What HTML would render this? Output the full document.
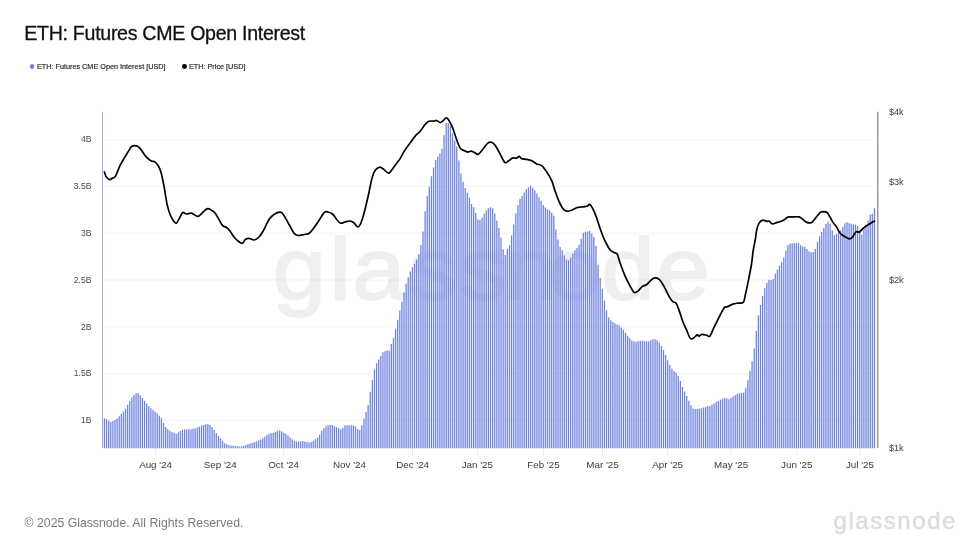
<!DOCTYPE html>
<html lang="en"><head><meta charset="utf-8"><title>ETH: Futures CME Open Interest</title>
<style>
html,body{margin:0;padding:0;background:#fff}
body{width:980px;height:551px;position:relative;overflow:hidden;font-family:"Liberation Sans",sans-serif}
.title{position:absolute;left:24.3px;top:21.4px;font-size:19.6px;line-height:24px;color:#111;white-space:nowrap;letter-spacing:-0.3px;-webkit-text-stroke:0.3px #111}
.legend{position:absolute;top:61px;font-size:7.25px;-webkit-text-stroke:0.15px #222;line-height:12px;color:#222;white-space:nowrap}
.dot{position:absolute;width:4.8px;height:4.8px;border-radius:50%;top:64px}
.footer{position:absolute;left:24.6px;top:515px;font-size:12.25px;line-height:16px;color:#7a7a7a;white-space:nowrap}
.logo{position:absolute;left:833.6px;top:506px;font-size:24px;line-height:30px;color:#dcdcdc;letter-spacing:1.55px;-webkit-text-stroke:0.45px #dcdcdc;white-space:nowrap}
svg text{font-family:"Liberation Sans",sans-serif}
.yl{font-size:8.6px;fill:#4a4a4a}
.yr{font-size:9.1px;fill:#3a3a3a}
.xl{font-size:9.8px;fill:#3a3a3a}
</style></head><body>
<svg width="980" height="551" viewBox="0 0 980 551" style="position:absolute;left:0;top:0">
<line x1="104" x2="874.5" y1="139.7" y2="139.7" stroke="#f3f3f3" stroke-width="1"/>
<line x1="104" x2="874.5" y1="186.5" y2="186.5" stroke="#f3f3f3" stroke-width="1"/>
<line x1="104" x2="874.5" y1="233.25" y2="233.25" stroke="#f3f3f3" stroke-width="1"/>
<line x1="104" x2="874.5" y1="280.0" y2="280.0" stroke="#f3f3f3" stroke-width="1"/>
<line x1="104" x2="874.5" y1="326.8" y2="326.8" stroke="#f3f3f3" stroke-width="1"/>
<line x1="104" x2="874.5" y1="373.6" y2="373.6" stroke="#f3f3f3" stroke-width="1"/>
<line x1="104" x2="874.5" y1="420.35" y2="420.35" stroke="#f3f3f3" stroke-width="1"/>
<line x1="155.6" x2="155.6" y1="448" y2="455.5" stroke="#ebebeb" stroke-width="1"/>
<line x1="220.2" x2="220.2" y1="448" y2="455.5" stroke="#ebebeb" stroke-width="1"/>
<line x1="283.6" x2="283.6" y1="448" y2="455.5" stroke="#ebebeb" stroke-width="1"/>
<line x1="349.5" x2="349.5" y1="448" y2="455.5" stroke="#ebebeb" stroke-width="1"/>
<line x1="412.6" x2="412.6" y1="448" y2="455.5" stroke="#ebebeb" stroke-width="1"/>
<line x1="477.3" x2="477.3" y1="448" y2="455.5" stroke="#ebebeb" stroke-width="1"/>
<line x1="543.4" x2="543.4" y1="448" y2="455.5" stroke="#ebebeb" stroke-width="1"/>
<line x1="602.5" x2="602.5" y1="448" y2="455.5" stroke="#ebebeb" stroke-width="1"/>
<line x1="667.7" x2="667.7" y1="448" y2="455.5" stroke="#ebebeb" stroke-width="1"/>
<line x1="731.1" x2="731.1" y1="448" y2="455.5" stroke="#ebebeb" stroke-width="1"/>
<line x1="796.7" x2="796.7" y1="448" y2="455.5" stroke="#ebebeb" stroke-width="1"/>
<line x1="859.9" x2="859.9" y1="448" y2="455.5" stroke="#ebebeb" stroke-width="1"/>
<text transform="scale(1.085,1)" x="275.9 313.4 349.1 399.1 445.6 488.5 530.0 578.8 629.5" y="299.5" text-anchor="middle" font-family="Liberation Sans, sans-serif" font-size="88" fill="#000" stroke="#000" stroke-width="2" stroke-linejoin="round" opacity="0.057">glassnode</text>
<path d="M104.45 448.2V418.2M106.56 448.2V419.23M108.67 448.2V420.67M110.78 448.2V422.07M112.89 448.2V421.11M115 448.2V419.89M117.11 448.2V418.47M119.22 448.2V416.26M121.33 448.2V413.87M123.44 448.2V411.48M125.55 448.2V408.68M127.66 448.2V404.74M129.77 448.2V401.03M131.87 448.2V397.58M133.98 448.2V395.02M136.09 448.2V393.34M138.2 448.2V393.21M140.31 448.2V395.38M142.42 448.2V397.93M144.53 448.2V400.81M146.64 448.2V403.42M148.75 448.2V405.9M150.86 448.2V408.29M152.97 448.2V409.96M155.08 448.2V411.39M157.19 448.2V413.49M159.3 448.2V415.68M161.41 448.2V418.22M163.52 448.2V423.03M165.63 448.2V427.01M167.74 448.2V429.34M169.85 448.2V430.82M171.96 448.2V431.96M174.07 448.2V432.99M176.18 448.2V433.9M178.29 448.2V432.57M180.4 448.2V431.08M182.5 448.2V429.82M184.61 448.2V429.44M186.72 448.2V429.2M188.83 448.2V429.2M190.94 448.2V429.2M193.05 448.2V428.85M195.16 448.2V428.41M197.27 448.2V427.56M199.38 448.2V426.68M201.49 448.2V425.74M203.6 448.2V424.89M205.71 448.2V424.17M207.82 448.2V424.23M209.93 448.2V424.93M212.04 448.2V427.04M214.15 448.2V429.87M216.26 448.2V432.93M218.37 448.2V435.68M220.48 448.2V438.32M222.59 448.2V440.79M224.7 448.2V442.9M226.81 448.2V444.19M228.92 448.2V445.16M231.03 448.2V445.52M233.13 448.2V445.86M235.24 448.2V446.12M237.35 448.2V446.34M239.46 448.2V446.45M241.57 448.2V446.2M243.68 448.2V445.83M245.79 448.2V444.89M247.9 448.2V443.97M250.01 448.2V443.42M252.12 448.2V442.88M254.23 448.2V442.21M256.34 448.2V441.5M258.45 448.2V440.64M260.56 448.2V439.45M262.67 448.2V438.27M264.78 448.2V436.64M266.89 448.2V435.07M269 448.2V434.1M271.11 448.2V433.33M273.22 448.2V432.89M275.33 448.2V432.11M277.44 448.2V431.11M279.55 448.2V430.29M281.66 448.2V431.55M283.77 448.2V432.68M285.87 448.2V433.85M287.98 448.2V435.4M290.09 448.2V437.45M292.2 448.2V439.46M294.31 448.2V441.06M296.42 448.2V441.5M298.53 448.2V441.5M300.64 448.2V441.3M302.75 448.2V441.02M304.86 448.2V441.52M306.97 448.2V442.06M309.08 448.2V442.52M311.19 448.2V441.97M313.3 448.2V440.73M315.41 448.2V439.33M317.52 448.2V437.55M319.63 448.2V434.64M321.74 448.2V430.82M323.85 448.2V428.15M325.96 448.2V426.37M328.07 448.2V425.13M330.18 448.2V424.88M332.29 448.2V424.96M334.4 448.2V425.91M336.5 448.2V427M338.61 448.2V428.26M340.72 448.2V429.36M342.83 448.2V427.97M344.94 448.2V425.27M347.05 448.2V425.2M349.16 448.2V425.2M351.27 448.2V425.2M353.38 448.2V425.45M355.49 448.2V426.49M357.6 448.2V428.95M359.71 448.2V430.05M361.82 448.2V425.2M363.93 448.2V418.43M366.04 448.2V412.08M368.15 448.2V404.89M370.26 448.2V391.71M372.37 448.2V380.02M374.48 448.2V369.54M376.59 448.2V363.27M378.7 448.2V359.44M380.81 448.2V355.91M382.92 448.2V352.35M385.03 448.2V351.34M387.13 448.2V350.24M389.24 448.2V350.77M391.35 448.2V343.95M393.46 448.2V337.89M395.57 448.2V329.15M397.68 448.2V319.63M399.79 448.2V310.43M401.9 448.2V301.73M404.01 448.2V292.25M406.12 448.2V283.82M408.23 448.2V277.21M410.34 448.2V271.57M412.45 448.2V267.3M414.56 448.2V263.78M416.67 448.2V259.43M418.78 448.2V254.2M420.89 448.2V244.91M423 448.2V231.51M425.11 448.2V211.32M427.22 448.2V195.67M429.33 448.2V186.83M431.44 448.2V176.33M433.55 448.2V167.46M435.66 448.2V159.99M437.77 448.2V156.43M439.87 448.2V153.27M441.98 448.2V148.82M444.09 448.2V135.37M446.2 448.2V123M448.31 448.2V123.31M450.42 448.2V126.05M452.53 448.2V133.6M454.64 448.2V140.49M456.75 448.2V146.74M458.86 448.2V160.58M460.97 448.2V173.58M463.08 448.2V181.74M465.19 448.2V187.97M467.3 448.2V192.68M469.41 448.2V197.64M471.52 448.2V204.03M473.63 448.2V207.15M475.74 448.2V212.91M477.85 448.2V219.44M479.96 448.2V220.29M482.07 448.2V217.87M484.18 448.2V213.73M486.29 448.2V210.53M488.4 448.2V208.3M490.5 448.2V207.17M492.61 448.2V208.4M494.72 448.2V213.41M496.83 448.2V220.6M498.94 448.2V228.02M501.05 448.2V237.72M503.16 448.2V249.19M505.27 448.2V255.04M507.38 448.2V248.67M509.49 448.2V245.28M511.6 448.2V235.2M513.71 448.2V224.59M515.82 448.2V213.52M517.93 448.2V205.11M520.04 448.2V198.78M522.15 448.2V195.95M524.26 448.2V192.48M526.37 448.2V189.23M528.48 448.2V187.22M530.59 448.2V185.46M532.7 448.2V187.86M534.81 448.2V190.31M536.92 448.2V193.43M539.03 448.2V197.35M541.13 448.2V200.67M543.24 448.2V204.89M545.35 448.2V207.45M547.46 448.2V209.37M549.57 448.2V210.57M551.68 448.2V212.68M553.79 448.2V215.84M555.9 448.2V229.44M558.01 448.2V239.39M560.12 448.2V246.94M562.23 448.2V250.18M564.34 448.2V255.49M566.45 448.2V259.53M568.56 448.2V260.34M570.67 448.2V257.56M572.78 448.2V253.48M574.89 448.2V250.27M577 448.2V248.1M579.11 448.2V244.84M581.22 448.2V238.67M583.33 448.2V232.85M585.44 448.2V231.86M587.55 448.2V231.62M589.66 448.2V230.9M591.77 448.2V233.6M593.87 448.2V237M595.98 448.2V246.12M598.09 448.2V264.66M600.2 448.2V278.02M602.31 448.2V288.78M604.42 448.2V300.67M606.53 448.2V310.27M608.64 448.2V317.39M610.75 448.2V320.32M612.86 448.2V321.97M614.97 448.2V323.3M617.08 448.2V324.39M619.19 448.2V325.49M621.3 448.2V327.4M623.41 448.2V329.77M625.52 448.2V332.67M627.63 448.2V335.79M629.74 448.2V338.15M631.85 448.2V340.43M633.96 448.2V341.44M636.07 448.2V341.67M638.18 448.2V341.19M640.29 448.2V340.87M642.4 448.2V340.86M644.5 448.2V341.19M646.61 448.2V341.32M648.72 448.2V341.13M650.83 448.2V340.23M652.94 448.2V339.31M655.05 448.2V339.13M657.16 448.2V340.16M659.27 448.2V342.51M661.38 448.2V345.97M663.49 448.2V349.93M665.6 448.2V354.99M667.71 448.2V360.14M669.82 448.2V364.95M671.93 448.2V368.83M674.04 448.2V370.91M676.15 448.2V372.51M678.26 448.2V375.77M680.37 448.2V381M682.48 448.2V387M684.59 448.2V391.58M686.7 448.2V396.04M688.81 448.2V400.76M690.92 448.2V405.16M693.03 448.2V408.47M695.13 448.2V408.89M697.24 448.2V408.9M699.35 448.2V408.8M701.46 448.2V408.21M703.57 448.2V407.51M705.68 448.2V406.65M707.79 448.2V406M709.9 448.2V406.33M712.01 448.2V404.81M714.12 448.2V403.14M716.23 448.2V402.03M718.34 448.2V401.08M720.45 448.2V399.81M722.56 448.2V398.5M724.67 448.2V397.73M726.78 448.2V398.24M728.89 448.2V399.34M731 448.2V398.01M733.11 448.2V396.56M735.22 448.2V395.16M737.33 448.2V393.75M739.44 448.2V393.1M741.55 448.2V393.1M743.66 448.2V392.69M745.77 448.2V388.19M747.87 448.2V380.17M749.98 448.2V370.81M752.09 448.2V361.26M754.2 448.2V348.4M756.31 448.2V330.73M758.42 448.2V315.49M760.53 448.2V305.02M762.64 448.2V295.98M764.75 448.2V288.29M766.86 448.2V282.63M768.97 448.2V279.68M771.08 448.2V280.37M773.19 448.2V279.01M775.3 448.2V273.86M777.41 448.2V269.48M779.52 448.2V265.65M781.63 448.2V262.23M783.74 448.2V257.38M785.85 448.2V250.47M787.96 448.2V245.26M790.07 448.2V243.65M792.18 448.2V243.31M794.29 448.2V243.2M796.4 448.2V243.2M798.5 448.2V243.3M800.61 448.2V245.35M802.72 448.2V246.62M804.83 448.2V247.06M806.94 448.2V248.88M809.05 448.2V251.33M811.16 448.2V252.21M813.27 448.2V251.93M815.38 448.2V248.95M817.49 448.2V242.03M819.6 448.2V236.29M821.71 448.2V231.98M823.82 448.2V227.91M825.93 448.2V224.09M828.04 448.2V221.74M830.15 448.2V223.85M832.26 448.2V230.33M834.37 448.2V235.13M836.48 448.2V233.91M838.59 448.2V231.81M840.7 448.2V230.25M842.81 448.2V226.67M844.92 448.2V223.17M847.03 448.2V222.15M849.13 448.2V223.14M851.24 448.2V223.82M853.35 448.2V224.42M855.46 448.2V224.87M857.57 448.2V226.01M859.68 448.2V230.57M861.79 448.2V234.78M863.9 448.2V228.07M866.01 448.2V224.64M868.12 448.2V220.41M870.23 448.2V214.79M872.34 448.2V213.79M874.45 448.2V208.23" stroke="rgba(0,175,255,0.063)" stroke-width="2.13" fill="none"/>
<path d="M104.45 448.2V418.2M106.56 448.2V419.23M108.67 448.2V420.67M110.78 448.2V422.07M112.89 448.2V421.11M115 448.2V419.89M117.11 448.2V418.47M119.22 448.2V416.26M121.33 448.2V413.87M123.44 448.2V411.48M125.55 448.2V408.68M127.66 448.2V404.74M129.77 448.2V401.03M131.87 448.2V397.58M133.98 448.2V395.02M136.09 448.2V393.34M138.2 448.2V393.21M140.31 448.2V395.38M142.42 448.2V397.93M144.53 448.2V400.81M146.64 448.2V403.42M148.75 448.2V405.9M150.86 448.2V408.29M152.97 448.2V409.96M155.08 448.2V411.39M157.19 448.2V413.49M159.3 448.2V415.68M161.41 448.2V418.22M163.52 448.2V423.03M165.63 448.2V427.01M167.74 448.2V429.34M169.85 448.2V430.82M171.96 448.2V431.96M174.07 448.2V432.99M176.18 448.2V433.9M178.29 448.2V432.57M180.4 448.2V431.08M182.5 448.2V429.82M184.61 448.2V429.44M186.72 448.2V429.2M188.83 448.2V429.2M190.94 448.2V429.2M193.05 448.2V428.85M195.16 448.2V428.41M197.27 448.2V427.56M199.38 448.2V426.68M201.49 448.2V425.74M203.6 448.2V424.89M205.71 448.2V424.17M207.82 448.2V424.23M209.93 448.2V424.93M212.04 448.2V427.04M214.15 448.2V429.87M216.26 448.2V432.93M218.37 448.2V435.68M220.48 448.2V438.32M222.59 448.2V440.79M224.7 448.2V442.9M226.81 448.2V444.19M228.92 448.2V445.16M231.03 448.2V445.52M233.13 448.2V445.86M235.24 448.2V446.12M237.35 448.2V446.34M239.46 448.2V446.45M241.57 448.2V446.2M243.68 448.2V445.83M245.79 448.2V444.89M247.9 448.2V443.97M250.01 448.2V443.42M252.12 448.2V442.88M254.23 448.2V442.21M256.34 448.2V441.5M258.45 448.2V440.64M260.56 448.2V439.45M262.67 448.2V438.27M264.78 448.2V436.64M266.89 448.2V435.07M269 448.2V434.1M271.11 448.2V433.33M273.22 448.2V432.89M275.33 448.2V432.11M277.44 448.2V431.11M279.55 448.2V430.29M281.66 448.2V431.55M283.77 448.2V432.68M285.87 448.2V433.85M287.98 448.2V435.4M290.09 448.2V437.45M292.2 448.2V439.46M294.31 448.2V441.06M296.42 448.2V441.5M298.53 448.2V441.5M300.64 448.2V441.3M302.75 448.2V441.02M304.86 448.2V441.52M306.97 448.2V442.06M309.08 448.2V442.52M311.19 448.2V441.97M313.3 448.2V440.73M315.41 448.2V439.33M317.52 448.2V437.55M319.63 448.2V434.64M321.74 448.2V430.82M323.85 448.2V428.15M325.96 448.2V426.37M328.07 448.2V425.13M330.18 448.2V424.88M332.29 448.2V424.96M334.4 448.2V425.91M336.5 448.2V427M338.61 448.2V428.26M340.72 448.2V429.36M342.83 448.2V427.97M344.94 448.2V425.27M347.05 448.2V425.2M349.16 448.2V425.2M351.27 448.2V425.2M353.38 448.2V425.45M355.49 448.2V426.49M357.6 448.2V428.95M359.71 448.2V430.05M361.82 448.2V425.2M363.93 448.2V418.43M366.04 448.2V412.08M368.15 448.2V404.89M370.26 448.2V391.71M372.37 448.2V380.02M374.48 448.2V369.54M376.59 448.2V363.27M378.7 448.2V359.44M380.81 448.2V355.91M382.92 448.2V352.35M385.03 448.2V351.34M387.13 448.2V350.24M389.24 448.2V350.77M391.35 448.2V343.95M393.46 448.2V337.89M395.57 448.2V329.15M397.68 448.2V319.63M399.79 448.2V310.43M401.9 448.2V301.73M404.01 448.2V292.25M406.12 448.2V283.82M408.23 448.2V277.21M410.34 448.2V271.57M412.45 448.2V267.3M414.56 448.2V263.78M416.67 448.2V259.43M418.78 448.2V254.2M420.89 448.2V244.91M423 448.2V231.51M425.11 448.2V211.32M427.22 448.2V195.67M429.33 448.2V186.83M431.44 448.2V176.33M433.55 448.2V167.46M435.66 448.2V159.99M437.77 448.2V156.43M439.87 448.2V153.27M441.98 448.2V148.82M444.09 448.2V135.37M446.2 448.2V123M448.31 448.2V123.31M450.42 448.2V126.05M452.53 448.2V133.6M454.64 448.2V140.49M456.75 448.2V146.74M458.86 448.2V160.58M460.97 448.2V173.58M463.08 448.2V181.74M465.19 448.2V187.97M467.3 448.2V192.68M469.41 448.2V197.64M471.52 448.2V204.03M473.63 448.2V207.15M475.74 448.2V212.91M477.85 448.2V219.44M479.96 448.2V220.29M482.07 448.2V217.87M484.18 448.2V213.73M486.29 448.2V210.53M488.4 448.2V208.3M490.5 448.2V207.17M492.61 448.2V208.4M494.72 448.2V213.41M496.83 448.2V220.6M498.94 448.2V228.02M501.05 448.2V237.72M503.16 448.2V249.19M505.27 448.2V255.04M507.38 448.2V248.67M509.49 448.2V245.28M511.6 448.2V235.2M513.71 448.2V224.59M515.82 448.2V213.52M517.93 448.2V205.11M520.04 448.2V198.78M522.15 448.2V195.95M524.26 448.2V192.48M526.37 448.2V189.23M528.48 448.2V187.22M530.59 448.2V185.46M532.7 448.2V187.86M534.81 448.2V190.31M536.92 448.2V193.43M539.03 448.2V197.35M541.13 448.2V200.67M543.24 448.2V204.89M545.35 448.2V207.45M547.46 448.2V209.37M549.57 448.2V210.57M551.68 448.2V212.68M553.79 448.2V215.84M555.9 448.2V229.44M558.01 448.2V239.39M560.12 448.2V246.94M562.23 448.2V250.18M564.34 448.2V255.49M566.45 448.2V259.53M568.56 448.2V260.34M570.67 448.2V257.56M572.78 448.2V253.48M574.89 448.2V250.27M577 448.2V248.1M579.11 448.2V244.84M581.22 448.2V238.67M583.33 448.2V232.85M585.44 448.2V231.86M587.55 448.2V231.62M589.66 448.2V230.9M591.77 448.2V233.6M593.87 448.2V237M595.98 448.2V246.12M598.09 448.2V264.66M600.2 448.2V278.02M602.31 448.2V288.78M604.42 448.2V300.67M606.53 448.2V310.27M608.64 448.2V317.39M610.75 448.2V320.32M612.86 448.2V321.97M614.97 448.2V323.3M617.08 448.2V324.39M619.19 448.2V325.49M621.3 448.2V327.4M623.41 448.2V329.77M625.52 448.2V332.67M627.63 448.2V335.79M629.74 448.2V338.15M631.85 448.2V340.43M633.96 448.2V341.44M636.07 448.2V341.67M638.18 448.2V341.19M640.29 448.2V340.87M642.4 448.2V340.86M644.5 448.2V341.19M646.61 448.2V341.32M648.72 448.2V341.13M650.83 448.2V340.23M652.94 448.2V339.31M655.05 448.2V339.13M657.16 448.2V340.16M659.27 448.2V342.51M661.38 448.2V345.97M663.49 448.2V349.93M665.6 448.2V354.99M667.71 448.2V360.14M669.82 448.2V364.95M671.93 448.2V368.83M674.04 448.2V370.91M676.15 448.2V372.51M678.26 448.2V375.77M680.37 448.2V381M682.48 448.2V387M684.59 448.2V391.58M686.7 448.2V396.04M688.81 448.2V400.76M690.92 448.2V405.16M693.03 448.2V408.47M695.13 448.2V408.89M697.24 448.2V408.9M699.35 448.2V408.8M701.46 448.2V408.21M703.57 448.2V407.51M705.68 448.2V406.65M707.79 448.2V406M709.9 448.2V406.33M712.01 448.2V404.81M714.12 448.2V403.14M716.23 448.2V402.03M718.34 448.2V401.08M720.45 448.2V399.81M722.56 448.2V398.5M724.67 448.2V397.73M726.78 448.2V398.24M728.89 448.2V399.34M731 448.2V398.01M733.11 448.2V396.56M735.22 448.2V395.16M737.33 448.2V393.75M739.44 448.2V393.1M741.55 448.2V393.1M743.66 448.2V392.69M745.77 448.2V388.19M747.87 448.2V380.17M749.98 448.2V370.81M752.09 448.2V361.26M754.2 448.2V348.4M756.31 448.2V330.73M758.42 448.2V315.49M760.53 448.2V305.02M762.64 448.2V295.98M764.75 448.2V288.29M766.86 448.2V282.63M768.97 448.2V279.68M771.08 448.2V280.37M773.19 448.2V279.01M775.3 448.2V273.86M777.41 448.2V269.48M779.52 448.2V265.65M781.63 448.2V262.23M783.74 448.2V257.38M785.85 448.2V250.47M787.96 448.2V245.26M790.07 448.2V243.65M792.18 448.2V243.31M794.29 448.2V243.2M796.4 448.2V243.2M798.5 448.2V243.3M800.61 448.2V245.35M802.72 448.2V246.62M804.83 448.2V247.06M806.94 448.2V248.88M809.05 448.2V251.33M811.16 448.2V252.21M813.27 448.2V251.93M815.38 448.2V248.95M817.49 448.2V242.03M819.6 448.2V236.29M821.71 448.2V231.98M823.82 448.2V227.91M825.93 448.2V224.09M828.04 448.2V221.74M830.15 448.2V223.85M832.26 448.2V230.33M834.37 448.2V235.13M836.48 448.2V233.91M838.59 448.2V231.81M840.7 448.2V230.25M842.81 448.2V226.67M844.92 448.2V223.17M847.03 448.2V222.15M849.13 448.2V223.14M851.24 448.2V223.82M853.35 448.2V224.42M855.46 448.2V224.87M857.57 448.2V226.01M859.68 448.2V230.57M861.79 448.2V234.78M863.9 448.2V228.07M866.01 448.2V224.64M868.12 448.2V220.41M870.23 448.2V214.79M872.34 448.2V213.79M874.45 448.2V208.23" stroke="#7582e0" stroke-width="1.25" fill="none"/>
<line x1="102.5" x2="102.5" y1="111.8" y2="448.2" stroke="#aaaadc" stroke-width="1"/>
<line x1="877.72" x2="877.72" y1="111.7" y2="447.9" stroke="#969696" stroke-width="1.45"/>
<path d="M104.4 171.5C104.72 172.32 105.45 175.13 106.3 176.4C107.15 177.67 108.47 178.9 109.5 179.1C110.53 179.3 111.5 178.18 112.5 177.6C113.5 177.02 114.25 177.68 115.5 175.6C116.75 173.52 118.42 168.3 120 165.1C121.58 161.9 123.53 158.9 125 156.4C126.47 153.9 127.63 151.87 128.8 150.1C129.97 148.33 130.53 146.52 132 145.8C133.47 145.08 136.05 145.17 137.6 145.8C139.15 146.43 139.85 147.83 141.3 149.6C142.75 151.37 144.62 154.57 146.3 156.4C147.98 158.23 150.02 159.82 151.4 160.6C152.78 161.38 153.48 160.35 154.6 161.1C155.72 161.85 157.05 163.38 158.1 165.1C159.15 166.82 159.93 168.05 160.9 171.4C161.87 174.75 162.87 179.78 163.9 185.2C164.93 190.62 166.07 199.1 167.1 203.9C168.13 208.7 169.05 211.28 170.1 214C171.15 216.72 172.35 218.75 173.4 220.2C174.45 221.65 175.35 223.2 176.4 222.7C177.45 222.2 178.65 218.98 179.7 217.2C180.75 215.42 181.58 212.62 182.7 212C183.82 211.38 184.95 213.38 186.4 213.5C187.85 213.62 189.73 212.37 191.4 212.7C193.07 213.03 195.15 215.03 196.4 215.5C197.65 215.97 197.63 216.3 198.9 215.5C200.17 214.7 202.53 211.92 204 210.7C205.47 209.48 206.45 208.37 207.7 208.2C208.95 208.03 210.25 208.95 211.5 209.7C212.75 210.45 213.95 211.15 215.2 212.7C216.45 214.25 217.75 216.92 219 219C220.25 221.08 221.45 223.87 222.7 225.2C223.95 226.53 225.32 226.15 226.5 227C227.68 227.85 228.55 228.72 229.8 230.3C231.05 231.88 232.67 234.83 234 236.5C235.33 238.17 236.42 239.25 237.8 240.3C239.18 241.35 241.05 243.02 242.3 242.8C243.55 242.58 244.18 239.83 245.3 239C246.42 238.17 247.55 237.72 249 237.8C250.45 237.88 252.33 239.72 254 239.5C255.67 239.28 257.33 238.25 259 236.5C260.67 234.75 262.33 231.92 264 229C265.67 226.08 267.33 221.5 269 219C270.67 216.5 272.1 215.22 274 214C275.9 212.78 278.72 211.5 280.4 211.7C282.08 211.9 282.65 213.15 284.1 215.2C285.55 217.25 287.43 221.07 289.1 224C290.77 226.93 292.63 230.97 294.1 232.8C295.57 234.63 296.22 234.8 297.9 235C299.58 235.2 302.32 234.37 304.2 234C306.08 233.63 307.73 233.72 309.2 232.8C310.67 231.88 311.53 230.38 313 228.5C314.47 226.62 316.13 224.22 318 221.5C319.87 218.78 322.53 213.87 324.2 212.2C325.87 210.53 326.53 211.2 328 211.5C329.47 211.8 331.55 212.75 333 214C334.45 215.25 335.45 217.55 336.7 219C337.95 220.45 339.12 222.28 340.5 222.7C341.88 223.12 343.42 221.87 345 221.5C346.58 221.13 348.53 220.38 350 220.5C351.47 220.62 352.47 221.2 353.8 222.2C355.13 223.2 356.75 226.62 358 226.5C359.25 226.38 360.13 224.42 361.3 221.5C362.47 218.58 363.75 213.8 365 209C366.25 204.2 367.63 197.93 368.8 192.7C369.97 187.47 370.97 181.37 372 177.6C373.03 173.83 373.73 171.93 375 170.1C376.27 168.27 378.13 166.8 379.6 166.6C381.07 166.4 382.27 167.9 383.8 168.9C385.33 169.9 387.12 173.02 388.8 172.6C390.48 172.18 392.02 168.82 393.9 166.4C395.78 163.98 398.32 160.82 400.1 158.1C401.88 155.38 402.93 152.68 404.6 150.1C406.27 147.52 408.33 145.02 410.1 142.6C411.87 140.18 413.52 137.57 415.2 135.6C416.88 133.63 418.53 132.77 420.2 130.8C421.87 128.83 423.75 125.47 425.2 123.8C426.65 122.13 427.45 121.35 428.9 120.8C430.35 120.25 432.65 120.63 433.9 120.5C435.15 120.37 435.35 119.75 436.4 120C437.45 120.25 439.07 122 440.2 122C441.33 122 442.17 120.78 443.2 120C444.23 119.22 445.43 117.3 446.4 117.3C447.37 117.3 447.95 118.3 449 120C450.05 121.7 451.45 124.37 452.7 127.5C453.95 130.63 455.25 135.45 456.5 138.8C457.75 142.15 458.95 145.72 460.2 147.6C461.45 149.48 462.73 149.43 464 150.1C465.27 150.77 466.55 151.52 467.8 151.6C469.05 151.68 470.25 150.43 471.5 150.6C472.75 150.77 474.17 152.07 475.3 152.6C476.43 153.13 477.05 154.43 478.3 153.8C479.55 153.17 481.22 150.67 482.8 148.8C484.38 146.93 486.33 143.77 487.8 142.6C489.27 141.43 490.35 141.38 491.6 141.8C492.85 142.22 493.85 143.1 495.3 145.1C496.75 147.1 498.72 151 500.3 153.8C501.88 156.6 503.47 160.77 504.8 161.9C506.13 163.03 507.05 161.32 508.3 160.6C509.55 159.88 510.92 158.1 512.3 157.6C513.68 157.1 515.47 157.88 516.6 157.6C517.73 157.32 518.27 155.82 519.1 155.9C519.93 155.98 520.35 157.6 521.6 158.1C522.85 158.6 524.93 158.57 526.6 158.9C528.27 159.23 529.93 159.35 531.6 160.1C533.27 160.85 534.92 162.57 536.6 163.4C538.28 164.23 540.02 163.77 541.7 165.1C543.38 166.43 545.03 168.88 546.7 171.4C548.37 173.92 550.25 176.87 551.7 180.2C553.15 183.53 554.15 187.87 555.4 191.4C556.65 194.93 557.93 198.6 559.2 201.4C560.47 204.2 561.75 206.65 563 208.2C564.25 209.75 565.25 210.45 566.7 210.7C568.15 210.95 570.03 210.28 571.7 209.7C573.37 209.12 575.03 207.73 576.7 207.2C578.37 206.67 580.32 206.68 581.7 206.5C583.08 206.32 584.03 206.25 585 206.1C585.97 205.95 586.75 205.97 587.5 205.6C588.25 205.23 588.67 203.57 589.5 203.9C590.33 204.23 591.37 205.52 592.5 207.6C593.63 209.68 595.05 213.05 596.3 216.4C597.55 219.75 598.75 224.15 600 227.7C601.25 231.25 602.75 235.15 603.8 237.7C604.85 240.25 605.27 241.07 606.3 243C607.33 244.93 608.75 247.8 610 249.3C611.25 250.8 612.62 251.32 613.8 252C614.98 252.68 616.05 251.65 617.1 253.4C618.15 255.15 618.77 258.8 620.1 262.5C621.43 266.2 623.43 271.75 625.1 275.6C626.77 279.45 628.63 282.9 630.1 285.6C631.57 288.3 632.57 290.97 633.9 291.8C635.23 292.63 636.73 291.55 638.1 290.6C639.47 289.65 640.72 287.15 642.1 286.1C643.48 285.05 645.07 285.22 646.4 284.3C647.73 283.38 648.85 281.72 650.1 280.6C651.35 279.48 652.43 277.93 653.9 277.6C655.37 277.27 657.23 277.27 658.9 278.6C660.57 279.93 662.23 282.77 663.9 285.6C665.57 288.43 667.43 293.02 668.9 295.6C670.37 298.18 671.53 299.93 672.7 301.1C673.87 302.27 674.87 301.22 675.9 302.6C676.93 303.98 677.77 306.38 678.9 309.4C680.03 312.42 681.43 317.37 682.7 320.7C683.97 324.03 685.25 326.57 686.5 329.4C687.75 332.23 689.08 336.32 690.2 337.7C691.32 339.08 692.03 338.25 693.2 337.7C694.37 337.15 696.23 334.73 697.2 334.4C698.17 334.07 698.2 335.78 699 335.7C699.8 335.62 700.75 334.07 702 333.9C703.25 333.73 705.2 334.4 706.5 334.7C707.8 335 708.55 337 709.8 335.7C711.05 334.4 712.47 330.03 714 326.9C715.53 323.77 717.33 320.12 719 316.9C720.67 313.68 722.75 309.35 724 307.6C725.25 305.85 725.67 306.73 726.5 306.4C727.33 306.07 727.95 306.07 729 305.6C730.05 305.13 731.33 304.1 732.8 303.6C734.27 303.1 736.05 302.88 737.8 302.6C739.55 302.32 742.05 303.27 743.3 301.9C744.55 300.53 744.47 297.95 745.3 294.4C746.13 290.85 747.25 285.83 748.3 280.6C749.35 275.37 750.78 268.1 751.6 263C752.42 257.9 752.58 254 753.2 250C753.82 246 754.7 242.5 755.3 239C755.9 235.5 756.17 231.73 756.8 229C757.43 226.27 758.08 224.17 759.1 222.6C760.12 221.03 761.65 219.88 762.9 219.6C764.15 219.32 765.57 220.73 766.6 220.9C767.63 221.07 768.13 220.18 769.1 220.6C770.07 221.02 771.15 223.15 772.4 223.4C773.65 223.65 774.85 222.65 776.6 222.1C778.35 221.55 781.02 221.02 782.9 220.1C784.78 219.18 786.23 217.22 787.9 216.6C789.57 215.98 791.02 216.43 792.9 216.4C794.78 216.37 797.53 215.98 799.2 216.4C800.87 216.82 801.65 217.98 802.9 218.9C804.15 219.82 805.23 221.4 806.7 221.9C808.17 222.4 810.23 222.62 811.7 221.9C813.17 221.18 814.25 219.07 815.5 217.6C816.75 216.13 818.22 214.13 819.2 213.1C820.18 212.07 820.2 211.65 821.4 211.4C822.6 211.15 825.15 211.07 826.4 211.6C827.65 212.13 827.85 212.97 828.9 214.6C829.95 216.23 831.43 219.43 832.7 221.4C833.97 223.37 835.25 224.52 836.5 226.4C837.75 228.28 838.75 231.03 840.2 232.7C841.65 234.37 843.62 235.45 845.2 236.4C846.78 237.35 848.45 238.4 849.7 238.4C850.95 238.4 851.65 237.57 852.7 236.4C853.75 235.23 854.87 232.23 856 231.4C857.13 230.57 858.28 232.02 859.5 231.4C860.72 230.78 862.13 228.73 863.3 227.7C864.47 226.67 865.33 225.97 866.5 225.2C867.67 224.43 868.97 223.87 870.3 223.1C871.63 222.33 873.8 221.02 874.5 220.6" stroke="#000" stroke-width="1.7" fill="none" transform="translate(0,0.5)" stroke-linejoin="round" stroke-linecap="round"/>
<text x="91.5" y="142.4" text-anchor="end" class="yl">4B</text>
<text x="91.5" y="189.2" text-anchor="end" class="yl">3.5B</text>
<text x="91.5" y="235.95" text-anchor="end" class="yl">3B</text>
<text x="91.5" y="282.7" text-anchor="end" class="yl">2.5B</text>
<text x="91.5" y="329.5" text-anchor="end" class="yl">2B</text>
<text x="91.5" y="376.3" text-anchor="end" class="yl">1.5B</text>
<text x="91.5" y="423.05" text-anchor="end" class="yl">1B</text>
<text x="889" y="114.7" class="yr">$4k</text>
<text x="889" y="184.5" class="yr">$3k</text>
<text x="889" y="283" class="yr">$2k</text>
<text x="889" y="451.2" class="yr">$1k</text>
<text x="155.6" y="468" text-anchor="middle" class="xl">Aug '24</text>
<text x="220.2" y="468" text-anchor="middle" class="xl">Sep '24</text>
<text x="283.6" y="468" text-anchor="middle" class="xl">Oct '24</text>
<text x="349.5" y="468" text-anchor="middle" class="xl">Nov '24</text>
<text x="412.6" y="468" text-anchor="middle" class="xl">Dec '24</text>
<text x="477.3" y="468" text-anchor="middle" class="xl">Jan '25</text>
<text x="543.4" y="468" text-anchor="middle" class="xl">Feb '25</text>
<text x="602.5" y="468" text-anchor="middle" class="xl">Mar '25</text>
<text x="667.7" y="468" text-anchor="middle" class="xl">Apr '25</text>
<text x="731.1" y="468" text-anchor="middle" class="xl">May '25</text>
<text x="796.7" y="468" text-anchor="middle" class="xl">Jun '25</text>
<text x="859.9" y="468" text-anchor="middle" class="xl">Jul '25</text>
</svg>
<div class="title">ETH: Futures CME Open Interest</div>
<span class="dot" style="left:29.5px;background:#7080d8"></span>
<div class="legend" style="left:37px">ETH: Futures CME Open Interest [USD]</div>
<span class="dot" style="left:182.3px;background:#000"></span>
<div class="legend" style="left:189px">ETH: Price [USD]</div>
<div class="footer">© 2025 Glassnode. All Rights Reserved.</div>
<div class="logo">glassnode</div>
</body></html>
